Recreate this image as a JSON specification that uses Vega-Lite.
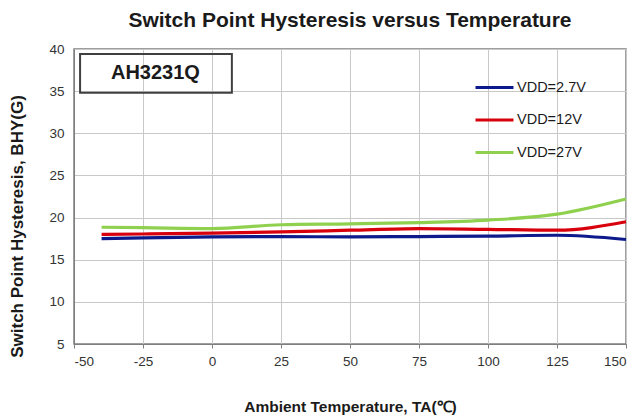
{
  "$schema": "https://vega.github.io/schema/vega-lite/v6.json",
  "width": 552,
  "height": 295,
  "autosize": {"type": "none"},
  "padding": {"left": 74, "top": 49, "right": 17, "bottom": 73},
  "background": "white",
  "config": {
    "font": "Liberation Sans",
    "view": {"stroke": "#7f7f7f", "strokeWidth": 1.5},
    "axis": {"gridColor": "#c8c8c8", "gridWidth": 1, "labelColor": "#333333", "labelFontSize": 13.5, "titleColor": "#1a1a1a", "titleFontSize": 15.5, "titleFontWeight": "bold", "domainColor": "#7f7f7f"}
  },
  "title": {"text": "Switch Point Hysteresis versus Temperature", "fontSize": 21, "fontWeight": "bold", "color": "#1a1a1a", "anchor": "middle", "offset": 11},
  "layer": [
    {
      "data": {"values": [
        {"t": -40, "v": 17.5, "s": "VDD=2.7V"},
        {"t": -25, "v": 17.6, "s": "VDD=2.7V"},
        {"t": 0, "v": 17.7, "s": "VDD=2.7V"},
        {"t": 25, "v": 17.75, "s": "VDD=2.7V"},
        {"t": 50, "v": 17.7, "s": "VDD=2.7V"},
        {"t": 75, "v": 17.75, "s": "VDD=2.7V"},
        {"t": 100, "v": 17.8, "s": "VDD=2.7V"},
        {"t": 125, "v": 17.9, "s": "VDD=2.7V"},
        {"t": 150, "v": 17.4, "s": "VDD=2.7V"},
        {"t": -40, "v": 18.0, "s": "VDD=12V"},
        {"t": -25, "v": 18.05, "s": "VDD=12V"},
        {"t": 0, "v": 18.15, "s": "VDD=12V"},
        {"t": 25, "v": 18.3, "s": "VDD=12V"},
        {"t": 50, "v": 18.5, "s": "VDD=12V"},
        {"t": 75, "v": 18.7, "s": "VDD=12V"},
        {"t": 100, "v": 18.6, "s": "VDD=12V"},
        {"t": 125, "v": 18.5, "s": "VDD=12V"},
        {"t": 150, "v": 19.5, "s": "VDD=12V"},
        {"t": -40, "v": 18.85, "s": "VDD=27V"},
        {"t": -25, "v": 18.8, "s": "VDD=27V"},
        {"t": 0, "v": 18.7, "s": "VDD=27V"},
        {"t": 25, "v": 19.15, "s": "VDD=27V"},
        {"t": 50, "v": 19.25, "s": "VDD=27V"},
        {"t": 75, "v": 19.4, "s": "VDD=27V"},
        {"t": 100, "v": 19.7, "s": "VDD=27V"},
        {"t": 125, "v": 20.4, "s": "VDD=27V"},
        {"t": 150, "v": 22.2, "s": "VDD=27V"}
      ]},
      "mark": {"type": "line", "strokeWidth": 3.2, "interpolate": "monotone"},
      "encoding": {
        "x": {"field": "t", "type": "quantitative", "scale": {"domain": [-50, 150], "nice": false},
          "axis": {"values": [-50, -25, 0, 25, 50, 75, 100, 125, 150], "labelExpr": "replace(datum.label, '−', '-')", "title": "Ambient  Temperature, TA(℃)", "ticks": true, "tickSize": 4, "tickColor": "#7f7f7f", "labelPadding": 6, "titlePadding": 32}},
        "y": {"field": "v", "type": "quantitative", "scale": {"domain": [5, 40], "nice": false, "zero": false},
          "axis": {"values": [5, 10, 15, 20, 25, 30, 35, 40], "title": "Switch Point Hysteresis, BHY(G)", "titleFontSize": 17, "titleY": 177, "titleX": -57, "titleAlign": "center", "titleBaseline": "middle", "ticks": false, "labelPadding": 10}},
        "color": {"field": "s", "type": "nominal", "sort": ["VDD=2.7V", "VDD=12V", "VDD=27V"],
          "scale": {"domain": ["VDD=2.7V", "VDD=12V", "VDD=27V"], "range": ["#0d1a8c", "#d8000c", "#8fd14f"]},
          "legend": {"title": null, "orient": "none", "legendX": 400, "legendY": 18, "symbolType": "stroke", "symbolStrokeWidth": 3, "symbolSize": 1444, "labelFontSize": 14.5, "labelColor": "#1a1a1a", "labelOffset": 2, "rowPadding": 5.5}}
      }
    },
    {
      "data": {"values": [{"label": "AH3231Q"}]},
      "mark": {"type": "rect", "fill": null, "fillOpacity": 0, "stroke": "#404040", "strokeWidth": 2},
      "encoding": {
        "x": {"datum": -47.8},
        "x2": {"datum": 7.2},
        "y": {"datum": 39.4},
        "y2": {"datum": 34.8}
      }
    },
    {
      "data": {"values": [{"label": "AH3231Q"}]},
      "mark": {"type": "text", "fontSize": 20, "fontWeight": "bold", "color": "#1a1a1a", "align": "center", "baseline": "middle"},
      "encoding": {
        "x": {"datum": -20.5},
        "y": {"datum": 37.1},
        "text": {"field": "label"}
      }
    }
  ]
}
